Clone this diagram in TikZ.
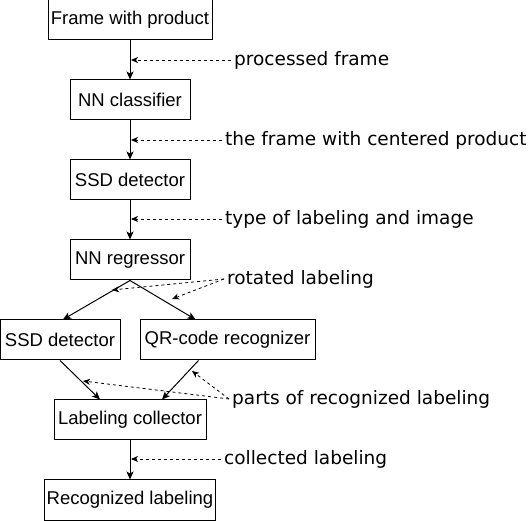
\documentclass[tikz,border=0pt]{standalone}
\usepackage{fontspec}
\setmainfont{DejaVu Sans}
\newfontfamily\boxfont{Liberation Sans}
\usetikzlibrary{arrows.meta,positioning}
\tikzset{block/.style={draw,line width=1pt,font=\boxfont\fontsize{18.5}{22}\selectfont,minimum height=40pt,inner sep=0pt}}
\tikzset{flow/.style={draw,line width=1pt,-{Stealth[length=8pt,width=7pt,inset=2pt]}}}
\tikzset{hint/.style={draw,line width=0.8pt,dash pattern=on 3pt off 3pt,-{Stealth[length=7pt,width=6pt,inset=2pt]}}}
\tikzset{remark/.style={font=\fontsize{18.5}{22}\selectfont,anchor=west,inner sep=3pt}}
\begin{document}
\begin{tikzpicture}[x=1pt,y=1pt,node distance=80pt]
    \useasboundingbox (0,0) rectangle (528,-521);

    % pipeline blocks
    \node[block,minimum width=164pt] (frame) at (130,-20) {Frame with product};
    \node[block,minimum width=120pt,below of=frame] (classifier) {NN classifier};
    \node[block,minimum width=120pt,below of=classifier] (detector) {SSD detector};
    \node[block,minimum width=120pt,below of=detector] (regressor) {NN regressor};
    \node[block,minimum width=120pt] (ssd) at (60,-340) {SSD detector};
    \node[block,minimum width=175pt] (qr) at (227.5,-340) {QR-code recognizer};
    \node[block,minimum width=152pt] (collector) at (130,-420) {Labeling collector};
    \node[block,minimum width=171pt,below of=collector] (result) {Recognized labeling};

    % data descriptions
    \node[remark] (processed) at (231,-60) {processed frame};
    \node[remark] (centered) at (222,-140) {the frame with centered product};
    \node[remark] (labtype) at (222,-219) {type of labeling and image};
    \node[remark] (rotated) at (224,-279) {rotated labeling};
    \node[remark] (parts) at (229,-399) {parts of recognized labeling};
    \node[remark] (collected) at (221,-459) {collected labeling};

    % points the descriptions refer to
    \coordinate (t1) at (131,-60);
    \coordinate (t2) at (131,-140);
    \coordinate (t3) at (131,-219);
    \coordinate (t4) at (112,-290);
    \coordinate (t5) at (172,-299);
    \coordinate (t6) at (83,-381);
    \coordinate (t7) at (192,-371);
    \coordinate (t8) at (131,-459);

        \path[flow] (frame) -- (classifier);
        \path[flow] (classifier) -- (detector);
        \path[flow] (detector) -- (regressor);
        \path[flow] (regressor.south) -- ([xshift=3pt]ssd.north);
        \path[flow] (regressor.south) -- ([xshift=-32pt]qr.north);
        \path[flow] (ssd.south) -- ([xshift=-30pt]collector.north);
        \path[flow] ([xshift=-29pt]qr.south) -- ([xshift=32pt]collector.north);
        \path[flow] (collector) -- (result);

        \path[hint] (processed.west) -- (t1);
        \path[hint] (centered.west) -- (t2);
        \path[hint] (labtype.west) -- (t3);
        \path[hint] (rotated.west) -- (t4);
        \path[hint] (rotated.west) -- (t5);
        \path[hint] (parts.west) -- (t6);
        \path[hint] (parts.west) -- (t7);
        \path[hint] (collected.west) -- (t8);
\end{tikzpicture}
\end{document}
